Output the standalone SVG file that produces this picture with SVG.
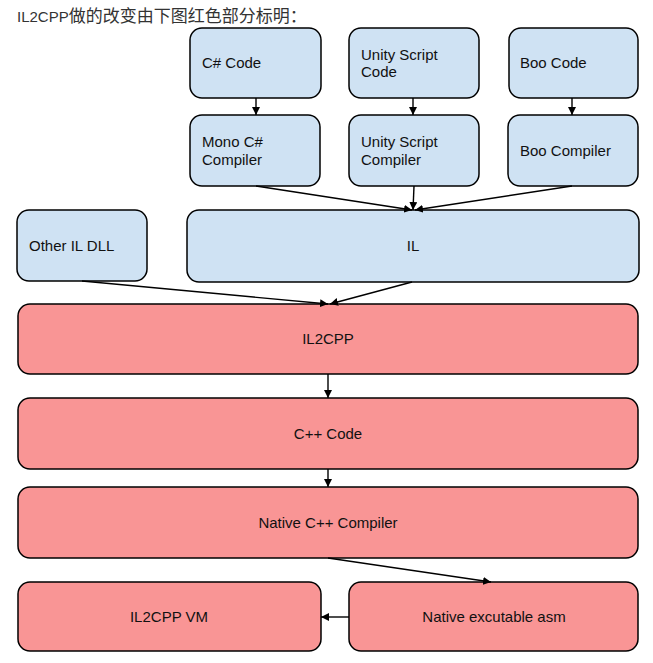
<svg xmlns="http://www.w3.org/2000/svg" width="653" height="663" viewBox="0 0 653 663">
<defs>
<marker id="ah" viewBox="0 0 10 10" refX="10" refY="5" markerWidth="8" markerHeight="8" markerUnits="userSpaceOnUse" orient="auto">
<path d="M0,0 L10,5 L0,10 z" fill="#000"/>
</marker>
<style>
.b{fill:#cfe2f3;stroke:#000;stroke-width:1.5}
.r{fill:#f99595;stroke:#000;stroke-width:1.5}
text{font-family:"Liberation Sans",Arial,sans-serif;font-size:15px;fill:#111}
.c{text-anchor:middle}
.t{font-family:"Liberation Sans","Noto Sans CJK SC",sans-serif;font-size:15px;fill:#333}
.e{stroke:#000;stroke-width:1.4;fill:none;marker-end:url(#ah)}
</style>
</defs>
<rect width="653" height="663" fill="#fff"/>
<text class="t" x="17" y="22">IL2CPP<tspan style="font-size:17px">做的改变由下图红色部分标明：</tspan></text>
<g id="cs-code"><rect class="b" x="190" y="28" width="131" height="70" rx="12"/><text x="202" y="68">C# Code</text></g>
<g id="us-code"><rect class="b" x="349" y="28" width="130" height="70" rx="12"/><text x="361" y="60">Unity Script</text><text x="361" y="77">Code</text></g>
<g id="boo-code"><rect class="b" x="509" y="28" width="129" height="70" rx="12"/><text x="520" y="68">Boo Code</text></g>
<g id="mono"><rect class="b" x="190" y="115" width="130" height="71" rx="12"/><text x="202" y="147">Mono C#</text><text x="202" y="165">Compiler</text></g>
<g id="us-comp"><rect class="b" x="349" y="115" width="130" height="71" rx="12"/><text x="361" y="147">Unity Script</text><text x="361" y="165">Compiler</text></g>
<g id="boo-comp"><rect class="b" x="508" y="115" width="130" height="71" rx="12"/><text x="520" y="156">Boo Compiler</text></g>
<g id="other"><rect class="b" x="17" y="210" width="130" height="71" rx="12"/><text x="29" y="251">Other IL DLL</text></g>
<g id="il"><rect class="b" x="187" y="210" width="452" height="72" rx="12"/><text class="c" x="413" y="251">IL</text></g>
<g id="il2cpp"><rect class="r" x="18" y="304" width="620" height="70" rx="12"/><text class="c" x="328" y="344">IL2CPP</text></g>
<g id="cpp"><rect class="r" x="18" y="398" width="620" height="71" rx="12"/><text class="c" x="328" y="439">C++ Code</text></g>
<g id="ncc"><rect class="r" x="18" y="487" width="620" height="71" rx="12"/><text class="c" x="328" y="528">Native C++ Compiler</text></g>
<g id="vm"><rect class="r" x="18" y="582" width="303" height="69" rx="12"/><text class="c" x="169" y="622">IL2CPP VM</text></g>
<g id="asm"><rect class="r" x="349" y="582" width="289" height="69" rx="12"/><text class="c" x="494" y="622">Native excutable asm</text></g>
<g id="connectors">
<line class="e" x1="256" y1="98" x2="256" y2="115"/>
<line class="e" x1="413" y1="98" x2="413" y2="115"/>
<line class="e" x1="572" y1="98" x2="572" y2="115"/>
<line class="e" x1="256" y1="186" x2="412" y2="210"/>
<line class="e" x1="414" y1="186" x2="413" y2="210"/>
<line class="e" x1="572" y1="186" x2="415" y2="210"/>
<line class="e" x1="82" y1="281" x2="328" y2="304"/>
<line class="e" x1="412" y1="282" x2="330" y2="304"/>
<line class="e" x1="328" y1="374" x2="328" y2="398"/>
<line class="e" x1="328" y1="469" x2="328" y2="487"/>
<line class="e" x1="328" y1="558" x2="491" y2="582"/>
<line class="e" x1="349" y1="617" x2="321" y2="617"/>
</g>
</svg>
